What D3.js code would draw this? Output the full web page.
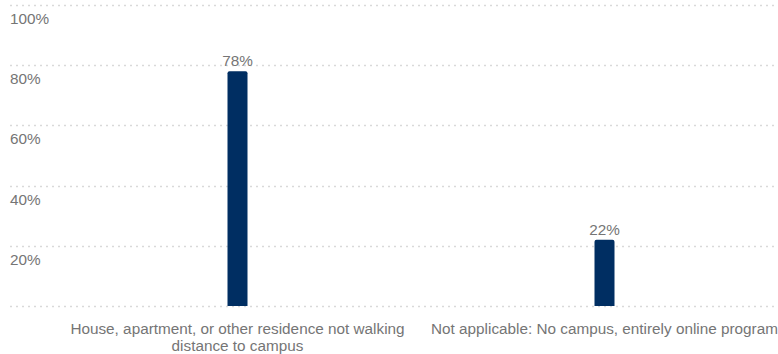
<!DOCTYPE html>
<html><head><meta charset="utf-8">
<script src="https://cdn.jsdelivr.net/npm/d3@7"></script>
<style>body{margin:0;background:#fff}svg{display:block;font-family:"Liberation Sans",Arial,sans-serif}</style>
</head><body><svg id="c" width="778" height="354"></svg>
<script>
const categories = ["House, apartment, or other residence not walking distance to campus", "Not applicable: No campus, entirely online program"];
const values = [78, 22];
const yTicks = [0, 20, 40, 60, 80, 100];

const svg = d3.select("#c");
const W = 778, H = 354, FS = 15.3;
const y = d3.scaleLinear().domain([0, 100]).range([306, 5]);
const x = d3.scaleBand().domain(categories).range([54, 788]);
const grid = svg.append("g");
grid.selectAll("line").data(yTicks).join("line")
  .attr("x1", 10).attr("x2", W).attr("y1", d => Math.round(y(d)) + 0.5).attr("y2", d => Math.round(y(d)) + 0.5)
  .attr("stroke", "#d9d9d9").attr("stroke-width", 1.5).attr("stroke-dasharray", "2,4");
grid.selectAll("text").data(yTicks.filter(d => d > 0)).join("text")
  .attr("x", 10).attr("y", d => y(d) + 19).attr("font-size", FS).attr("fill", "#757575")
  .text(d => d + "%");

const bw = 20;
svg.append("g").selectAll("path").data(values).join("path")
  .attr("fill", "#002e62")
  .attr("d", (d, i) => {
    const cx = x(categories[i]) + x.bandwidth() / 2, x0 = cx - bw / 2, x1 = cx + bw / 2, t = y(d), b = y(0), r = 2;
    return `M${x0},${b}V${t + r}Q${x0},${t} ${x0 + r},${t}H${x1 - r}Q${x1},${t} ${x1},${t + r}V${b}Z`;
  });
svg.append("g").selectAll("text").data(values).join("text")
  .attr("x", (d, i) => x(categories[i]) + x.bandwidth() / 2).attr("y", d => y(d) - 5)
  .attr("text-anchor", "middle").attr("font-size", FS).attr("fill", "#757575")
  .text(d => d + "%");

// category labels with wrapping
const lab = svg.append("g");
categories.forEach((c, i) => {
  const t = lab.append("text").attr("text-anchor", "middle").attr("font-size", FS).attr("fill", "#757575")
    .attr("x", x(c) + x.bandwidth() / 2).attr("y", 334);
  const words = c.split(" ");
  let line = [], lines = [];
  const tmp = t.append("tspan");
  words.forEach(w => {
    line.push(w);
    tmp.text(line.join(" "));
    if (tmp.node().getComputedTextLength() > 352 && line.length > 1) {
      line.pop(); lines.push(line.join(" ")); line = [w];
    }
  });
  lines.push(line.join(" "));
  tmp.remove();
  lines.forEach((l, k) => t.append("tspan").attr("x", x(c) + x.bandwidth() / 2).attr("dy", k ? 16.5 : 0).text(l));
});
</script></body></html>
